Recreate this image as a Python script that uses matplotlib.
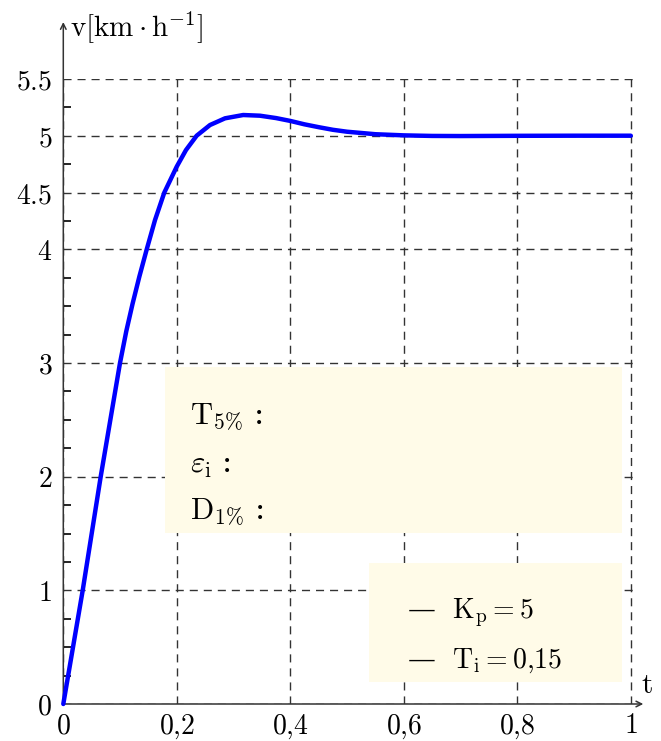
import matplotlib
matplotlib.use("Agg")
import matplotlib.pyplot as plt
from matplotlib.patches import Rectangle

plt.rcParams["mathtext.fontset"] = "cm"
plt.rcParams["font.family"] = ["DejaVu Serif"]

# step response
t = [0, 0.0342, 0.0659, 0.0999, 0.111, 0.122, 0.134, 0.147, 0.1616, 0.178,
     0.1998, 0.2162, 0.235, 0.2585, 0.285, 0.317, 0.3465, 0.375, 0.4,
     0.425, 0.45, 0.475, 0.5, 0.55, 0.6, 0.65, 0.7, 0.8, 0.9, 1.0]
v = [0, 1.0, 2.0, 3.0, 3.28, 3.52, 3.76, 4.0, 4.258, 4.5,
     4.727, 4.874, 5.0, 5.094, 5.153, 5.182, 5.176, 5.155, 5.13,
     5.1, 5.075, 5.052, 5.035, 5.013, 5.003, 4.998, 4.997, 4.999, 5.0, 5.0]

x_ticks = [0, 0.2, 0.4, 0.6, 0.8, 1.0]
x_labels = ["0", "0{,}2", "0{,}4", "0{,}6", "0{,}8", "1"]
y_ticks = [0, 1, 2, 3, 4, 4.5, 5, 5.5]
y_labels = ["0", "1", "2", "3", "4", "4.5", "5", "5.5"]
y_minor = [0.25, 0.5, 0.75, 1.25, 1.5, 1.75, 2.25, 2.5, 2.75, 3.25, 3.5,
           3.75, 4.25, 4.75, 5.25]

info_lines = [r"$\mathrm{T}_{5\%}$ :", r"$\varepsilon_{\mathrm{i}}$ :",
              r"$\mathrm{D}_{1\%}$ :"]
param_lines = [r"—  $\mathrm{K}_{\mathrm{p}} = 5$",
               r"—  $\mathrm{T}_{\mathrm{i}} = 0{,}15$"]

W, H = 661, 741
fig = plt.figure(figsize=(W / 100, H / 100), dpi=100)
# axes box spans data [0, 1.012] x [0, 5.5]
x0, x1px = 63.3, 567.5
y0, ypx = 704, 113.66
ax = fig.add_axes([x0 / W, (H - y0) / H, 1.012 * x1px / W, 5.5 * ypx / H])
ax.set_xlim(0, 1.012)
ax.set_ylim(0, 5.5)
for s in ax.spines.values():
    s.set_visible(False)

ax.set_axisbelow(True)
ax.grid(True, which="major", color="#333333", lw=1.0, ls=(0, (5.8, 4.3)))

ax.set_xticks(x_ticks, ["$%s$" % s for s in x_labels])
ax.set_yticks(y_ticks, ["$%s$" % s for s in y_labels])
ax.set_yticks(y_minor, minor=True)
ax.tick_params(axis="both", which="major", length=0, labelsize=20)
ax.tick_params(axis="x", pad=6)
ax.tick_params(axis="y", pad=8)
ax.tick_params(axis="y", which="minor", direction="in", length=6, width=1.2,
               color="black")

# axes with arrows
arrow = dict(arrowstyle="->", lw=1.1, color="#333333", shrinkA=0, shrinkB=0)
ax.annotate("", xy=(0, 6.0), xytext=(0, 0), arrowprops=arrow,
            annotation_clip=False)
ax.annotate("", xy=(1.022, 0), xytext=(0, 0), arrowprops=arrow,
            annotation_clip=False)
ax.text(0.012, 5.96, r"$\mathrm{v}[\mathrm{km}\cdot\mathrm{h}^{-1}]$",
        fontsize=21, ha="left", va="center", clip_on=False)
ax.text(1.018, 0.17, r"$\mathrm{t}$", fontsize=21, ha="left",
        va="center", clip_on=False)

ax.plot(t, v, color="#0000ff", lw=3.2, zorder=3, clip_on=False,
        solid_capstyle="round", solid_joinstyle="round")

box_color = "#fffbe8"
ax.add_patch(Rectangle((0.1795, 1.504), 0.8055, 1.461, facecolor=box_color,
                       edgecolor="none", zorder=1.5))
ax.add_patch(Rectangle((0.538, 0.196), 0.446, 1.042, facecolor=box_color,
                       edgecolor="none", zorder=1.5))

for i, s in enumerate(info_lines):
    ax.text(0.224, 2.53 - i * 0.42, s, fontsize=22, ha="left",
            va="center", zorder=4)
for i, s in enumerate(param_lines):
    ax.text(0.605, 0.80 - i * 0.415, s, fontsize=20, ha="left",
            va="center", zorder=4)

fig.savefig("out.png", dpi=100)
